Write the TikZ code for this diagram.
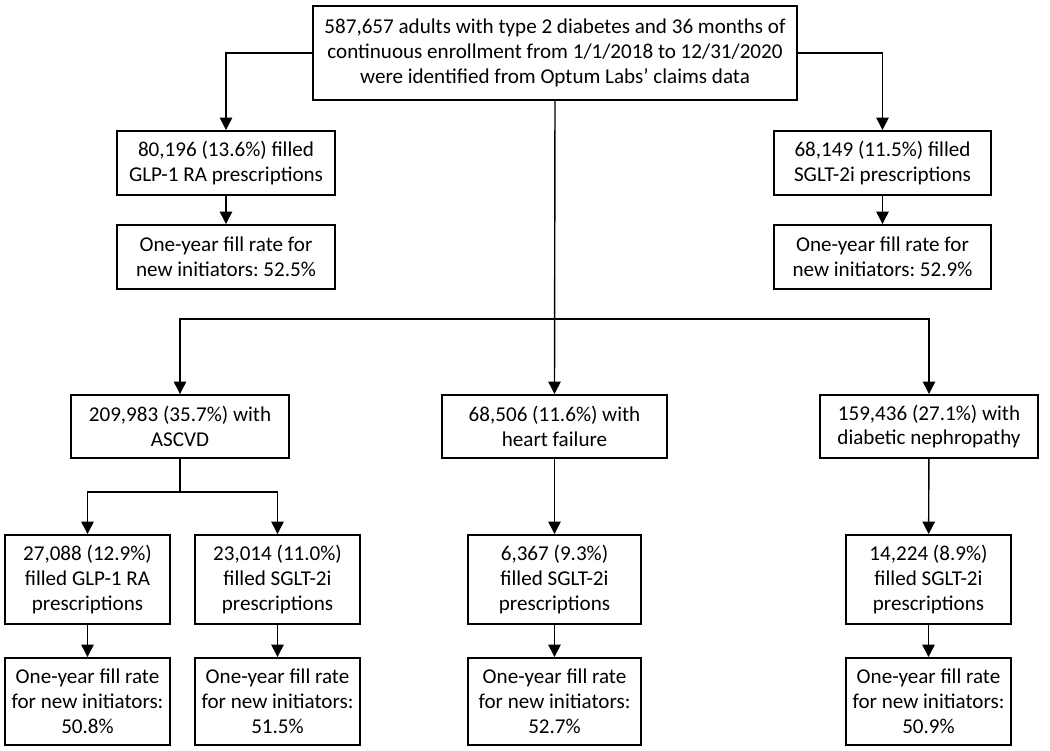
\documentclass[tikz,border=0pt]{standalone}
\usepackage{fontspec}
\setmainfont{Carlito}
\frenchspacing
\usetikzlibrary{arrows.meta, positioning, calc}

\begin{document}
\begin{tikzpicture}[
    box/.style={rectangle, draw, line width=1.1pt, inner sep=2pt, align=center,
                font=\fontsize{12}{14.2}\selectfont},
    link/.style={-{Triangle[length=7pt, width=7pt]}, line width=0.8pt}]

    \useasboundingbox (0,0) rectangle (21,-15.02);

    % Cohort
    \node[box, minimum width=9.68cm, minimum height=1.88cm] (cohort) at (11.1,-1.06)
        {587,657 adults with type 2 diabetes and 36 months of\\continuous enrollment from 1/1/2018 to 12/31/2020\\were identified from Optum Labs\symbol{"27} claims data};

    % Overall fills
    \node[box, minimum width=4.36cm, minimum height=1.28cm] (glp) at (4.52,-3.26) {80,196 (13.6\%) filled\\GLP-1 RA prescriptions};
    \node[box, minimum width=4.36cm, minimum height=1.28cm] (glpR) at (4.52,-5.14) {One-year fill rate for\\new initiators: 52.5\%};
    \node[box, minimum width=4.34cm, minimum height=1.28cm] (sglt) at (17.65,-3.26) {68,149 (11.5\%) filled\\SGLT-2i prescriptions};
    \node[box, minimum width=4.34cm, minimum height=1.28cm] (sgltR) at (17.65,-5.14) {One-year fill rate for\\new initiators: 52.9\%};

    % Conditions
    \node[box, minimum width=4.36cm, minimum height=1.26cm] (ascvd) at (3.6,-8.53) {209,983 (35.7\%) with\\ASCVD};
    \node[box, minimum width=4.5cm, minimum height=1.26cm] (hf) at (11.09,-8.53) {68,506 (11.6\%) with\\heart failure};
    \node[box, minimum width=4.36cm, minimum height=1.26cm] (dn) at (18.58,-8.53) {159,436 (27.1\%) with\\diabetic nephropathy};

    % Fills by condition
    \node[box, minimum width=3.3cm, minimum height=1.78cm] (aGlp) at (1.75,-11.59) {27,088 (12.9\%)\\filled GLP-1 RA\\prescriptions};
    \node[box, minimum width=3.3cm, minimum height=1.78cm] (aSglt) at (5.55,-11.59) {23,014 (11.0\%)\\filled SGLT-2i\\prescriptions};
    \node[box, minimum width=3.46cm, minimum height=1.78cm] (hSglt) at (11.09,-11.59) {6,367 (9.3\%)\\filled SGLT-2i\\prescriptions};
    \node[box, minimum width=3.3cm, minimum height=1.78cm] (dSglt) at (18.57,-11.59) {14,224 (8.9\%)\\filled SGLT-2i\\prescriptions};

    % Fill rates by condition
    \node[box, minimum width=3.3cm, minimum height=1.74cm] (aGlpR) at (1.75,-14.03) {One-year fill rate\\for new initiators:\\50.8\%};
    \node[box, minimum width=3.3cm, minimum height=1.74cm] (aSgltR) at (5.55,-14.03) {One-year fill rate\\for new initiators:\\51.5\%};
    \node[box, minimum width=3.46cm, minimum height=1.74cm] (hSgltR) at (11.09,-14.03) {One-year fill rate\\for new initiators:\\52.7\%};
    \node[box, minimum width=3.3cm, minimum height=1.74cm] (dSgltR) at (18.57,-14.03) {One-year fill rate\\for new initiators:\\50.9\%};

    % Split points
    \coordinate (split) at (11.1,-6.38);
    \coordinate (aSplit) at (3.6,-9.84);

    % Arrows
    \draw[link] (cohort.west) -| (glp.north);
    \draw[link] (cohort.east) -| (sglt.north);
    \draw[link] (glp) -- (glpR);
    \draw[link] (sglt) -- (sgltR);

    \draw[link] (cohort.south) -- (hf.north);
    \draw[link] (split) -| (ascvd.north);
    \draw[link] (split) -| (dn.north);

    \draw[line width=0.8pt] (ascvd.south) -- (aSplit);
    \draw[link] (aSplit) -| (aGlp.north);
    \draw[link] (aSplit) -| (aSglt.north);
    \draw[link] (hf) -- (hSglt);
    \draw[link] (dn) -- (dSglt);

    \draw[link] (aGlp) -- (aGlpR);
    \draw[link] (aSglt) -- (aSgltR);
    \draw[link] (hSglt) -- (hSgltR);
    \draw[link] (dSglt) -- (dSgltR);
\end{tikzpicture}
\end{document}
